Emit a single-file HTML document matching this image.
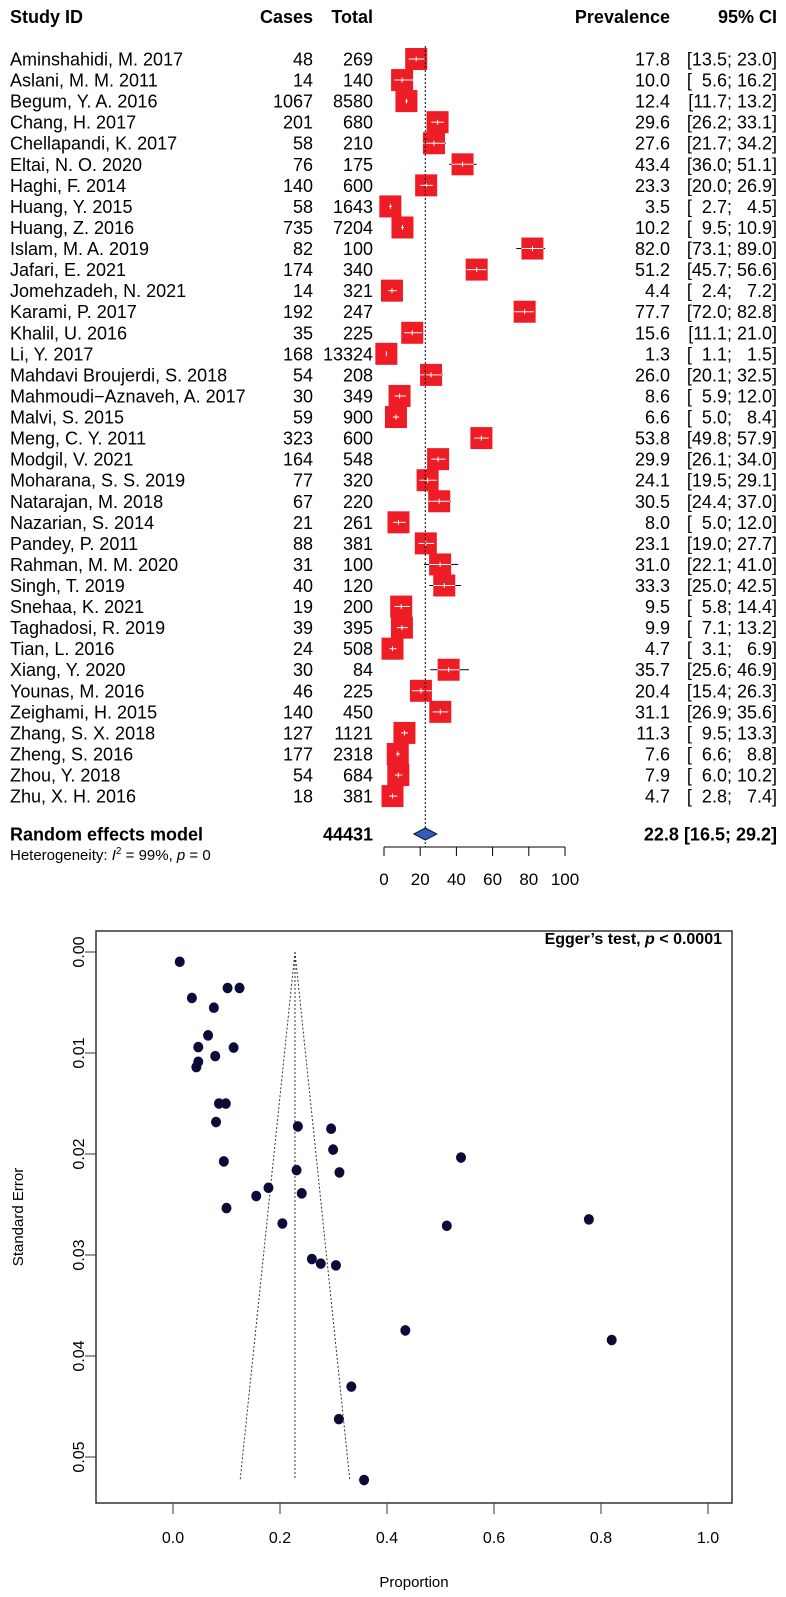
<!DOCTYPE html>
<html><head><meta charset="utf-8"><style>
html,body{margin:0;padding:0;background:#fff;}
svg{display:block;font-family:"Liberation Sans",Arial,sans-serif;}
</style></head><body>
<svg id="fig" width="786" height="1597" viewBox="0 0 786 1597" xmlns="http://www.w3.org/2000/svg">
<g id="forest"></g>
<g id="funnel"></g>
</svg>
<script>
const studies=["Aminshahidi, M. 2017","Aslani, M. M. 2011","Begum, Y. A. 2016","Chang, H. 2017","Chellapandi, K. 2017","Eltai, N. O. 2020","Haghi, F. 2014","Huang, Y. 2015","Huang, Z. 2016","Islam, M. A. 2019","Jafari, E. 2021","Jomehzadeh, N. 2021","Karami, P. 2017","Khalil, U. 2016","Li, Y. 2017","Mahdavi Broujerdi, S. 2018","Mahmoudi\u2212Aznaveh, A. 2017","Malvi, S. 2015","Meng, C. Y. 2011","Modgil, V. 2021","Moharana, S. S. 2019","Natarajan, M. 2018","Nazarian, S. 2014","Pandey, P. 2011","Rahman, M. M. 2020","Singh, T. 2019","Snehaa, K. 2021","Taghadosi, R. 2019","Tian, L. 2016","Xiang, Y. 2020","Younas, M. 2016","Zeighami, H. 2015","Zhang, S. X. 2018","Zheng, S. 2016","Zhou, Y. 2018","Zhu, X. H. 2016"];
const cases=[48,14,1067,201,58,76,140,58,735,82,174,14,192,35,168,54,30,59,323,164,77,67,21,88,31,40,19,39,24,30,46,140,127,177,54,18];
const totals=[269,140,8580,680,210,175,600,1643,7204,100,340,321,247,225,13324,208,349,900,600,548,320,220,261,381,100,120,200,395,508,84,225,450,1121,2318,684,381];
const prev=[17.8,10.0,12.4,29.6,27.6,43.4,23.3,3.5,10.2,82.0,51.2,4.4,77.7,15.6,1.3,26.0,8.6,6.6,53.8,29.9,24.1,30.5,8.0,23.1,31.0,33.3,9.5,9.9,4.7,35.7,20.4,31.1,11.3,7.6,7.9,4.7];
const lower=[13.5,5.6,11.7,26.2,21.7,36.0,20.0,2.7,9.5,73.1,45.7,2.4,72.0,11.1,1.1,20.1,5.9,5.0,49.8,26.1,19.5,24.4,5.0,19.0,22.1,25.0,5.8,7.1,3.1,25.6,15.4,26.9,9.5,6.6,6.0,2.8];
const upper=[23.0,16.2,13.2,33.1,34.2,51.1,26.9,4.5,10.9,89.0,56.6,7.2,82.8,21.0,1.5,32.5,12.0,8.4,57.9,34.0,29.1,37.0,12.0,27.7,41.0,42.5,14.4,13.2,6.9,46.9,26.3,35.6,13.3,8.8,10.2,7.4];
const pooled=[22.8,16.5,29.2];
const forestTicks=[0,20,40,60,80,100];
const funnelXTicks=[0.0,0.2,0.4,0.6,0.8,1.0];
const funnelYTicks=[0.00,0.01,0.02,0.03,0.04,0.05];

const NS="http://www.w3.org/2000/svg";
function mk(parent,tag,attrs,text){const e=document.createElementNS(NS,tag);for(const k in attrs)e.setAttribute(k,attrs[k]);if(text!==undefined)e.textContent=text;parent.appendChild(e);return e;}
const fg=document.getElementById('forest');
const fx=v=>384+v*1.81;
const rowY=i=>59+i*21.06;
const F=18;
const XC=313, XT=373, XP=670, XCI=777;
let t;
t=mk(fg,'text',{x:10,y:23,'font-size':F,'font-weight':'bold'},'Study ID');

t=mk(fg,'text',{x:XC,y:23,'font-size':F,'font-weight':'bold','text-anchor':'end'},'Cases');

t=mk(fg,'text',{x:XT,y:23,'font-size':F,'font-weight':'bold','text-anchor':'end'},'Total');

t=mk(fg,'text',{x:XP,y:23,'font-size':F,'font-weight':'bold','text-anchor':'end'},'Prevalence');

t=mk(fg,'text',{x:XCI,y:23,'font-size':F,'font-weight':'bold','text-anchor':'end'},'95% CI');

const fmt=v=>v.toFixed(1);
const pad=v=>(v<10?'\u2007':'')+fmt(v);
for(let i=0;i<studies.length;i++){
  const y=rowY(i);
  const g=mk(fg,'g',{});
  
  mk(g,'text',{x:10,y:y+6.5,'font-size':F},studies[i]);
  mk(g,'text',{x:XC,y:y+6.5,'font-size':F,'text-anchor':'end'},cases[i]);
  mk(g,'text',{x:XT,y:y+6.5,'font-size':F,'text-anchor':'end'},totals[i]);
  mk(g,'text',{x:XP,y:y+6.5,'font-size':F,'text-anchor':'end'},fmt(prev[i]));
  mk(g,'text',{x:XCI,y:y+6.5,'font-size':F,'text-anchor':'end'},'['+pad(lower[i])+'; '+pad(upper[i])+']');
  const s=22;
  const sq=mk(g,'rect',{x:fx(prev[i])-s/2,y:y-s/2,width:s,height:s,fill:'#ee1c25'});
  
  const l=fx(lower[i]),u=fx(upper[i]),a=fx(prev[i])-s/2,b=fx(prev[i])+s/2;
  if(l<a)mk(g,'line',{x1:l,x2:a,y1:y,y2:y,stroke:'#000','stroke-width':1});
  if(u>b)mk(g,'line',{x1:b,x2:u,y1:y,y2:y,stroke:'#000','stroke-width':1});
  mk(g,'line',{x1:Math.max(l,a),x2:Math.min(u,b),y1:y,y2:y,stroke:'#fff','stroke-width':1});
  mk(g,'line',{x1:fx(prev[i]),x2:fx(prev[i]),y1:y-2.5,y2:y+2.5,stroke:'#fff','stroke-width':1});
}
let dl=mk(fg,'line',{x1:fx(pooled[0]),x2:fx(pooled[0]),y1:46,y2:847,stroke:'#000','stroke-width':1,'stroke-dasharray':'2,2'});

const ry=834;
t=mk(fg,'text',{x:10,y:ry+6.5,'font-size':F,'font-weight':'bold'},'Random effects model');

t=mk(fg,'text',{x:XT,y:ry+6.5,'font-size':F,'font-weight':'bold','text-anchor':'end'},'44431');

t=mk(fg,'text',{x:XCI,y:ry+6.5,'font-size':F,'font-weight':'bold','text-anchor':'end'},fmt(pooled[0])+' ['+fmt(pooled[1])+'; '+fmt(pooled[2])+']');

const dm=mk(fg,'polygon',{points:`${fx(pooled[1])},${ry} ${fx(pooled[0])},${ry-6} ${fx(pooled[2])},${ry} ${fx(pooled[0])},${ry+6}`,fill:'#2f5fae',stroke:'#0a1a40','stroke-width':1});

t=mk(fg,'text',{x:10,y:860,'font-size':15},'');

t.innerHTML='Heterogeneity: <tspan font-style="italic">I</tspan><tspan dy="-6" font-size="10">2</tspan><tspan dy="6"> = 99%, </tspan><tspan font-style="italic">p</tspan> = 0';
const ax=mk(fg,'g',{});

mk(ax,'line',{x1:fx(0),x2:fx(100),y1:847,y2:847,stroke:'#000','stroke-width':1});
forestTicks.forEach(v=>{mk(ax,'line',{x1:fx(v),x2:fx(v),y1:847,y2:856,stroke:'#000','stroke-width':1});mk(ax,'text',{x:fx(v),y:885,'font-size':17,'text-anchor':'middle'},v);});

// funnel
const ug=document.getElementById('funnel');
const px=v=>173+v*535;
const py=v=>952+v*10100;
const L=96,R=732,T=931,B=1503;
let bx=mk(ug,'rect',{x:L,y:T,width:R-L,height:B-T,fill:'none',stroke:'#333','stroke-width':1.5});

const xa=mk(ug,'g',{});

funnelXTicks.forEach(v=>{mk(xa,'line',{x1:px(v),x2:px(v),y1:B,y2:B+11,stroke:'#333','stroke-width':1});mk(xa,'text',{x:px(v),y:B+40,'font-size':16,'text-anchor':'middle'},v.toFixed(1));});
const ya=mk(ug,'g',{});

funnelYTicks.forEach(v=>{mk(ya,'line',{x1:L-11,x2:L,y1:py(v),y2:py(v),stroke:'#333','stroke-width':1});mk(ya,'text',{x:0,y:0,'font-size':16,'text-anchor':'middle',transform:`translate(84,${py(v)}) rotate(-90)`},v.toFixed(2));});
t=mk(ug,'text',{x:0,y:0,'font-size':15,'text-anchor':'middle',transform:'translate(23,1217) rotate(-90)'},'Standard Error');

t=mk(ug,'text',{x:414,y:1587,'font-size':15,'text-anchor':'middle'},'Proportion');

t=mk(ug,'text',{x:722,y:944,'font-size':16,'font-weight':'bold','text-anchor':'end'},'');

t.innerHTML='Egger\u2019s test, <tspan font-style="italic">p</tspan> &lt; 0.0001';
const p0=pooled[0]/100;
const ses=cases.map((c,i)=>{const p=c/totals[i];return Math.sqrt(p*(1-p)/totals[i]);});
const seMax=Math.max(...ses);
const fl=mk(ug,'g',{stroke:'#333','stroke-width':1,'stroke-dasharray':'2,2',fill:'none'});

mk(fl,'line',{x1:px(p0),y1:py(0),x2:px(p0),y2:py(seMax)});
mk(fl,'line',{x1:px(p0),y1:py(0),x2:px(p0-1.96*seMax),y2:py(seMax)});
mk(fl,'line',{x1:px(p0),y1:py(0),x2:px(p0+1.96*seMax),y2:py(seMax)});
cases.forEach((c,i)=>{
  const p=c/totals[i];
  const d=mk(ug,'ellipse',{cx:px(p),cy:py(ses[i]),rx:5,ry:5.3,fill:'#0b0b3a'});
  
  
});
</script>
</body></html>
